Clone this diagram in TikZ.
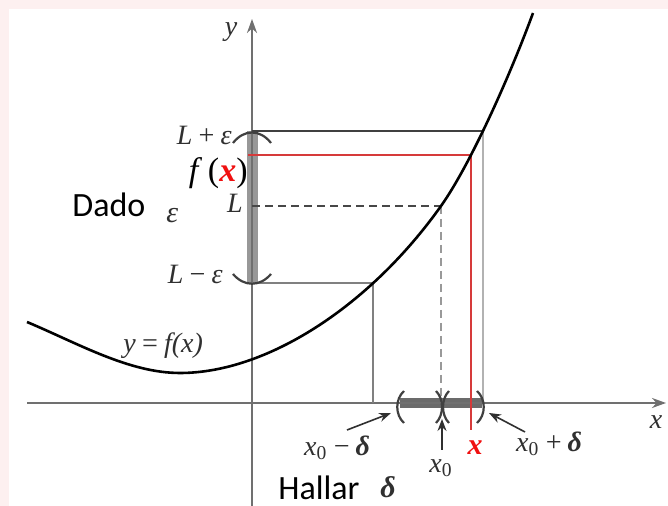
\documentclass[tikz,border=0pt]{standalone}
\usepackage{fontspec}
\usepackage{xcolor}
\usetikzlibrary{arrows.meta,positioning,calc}
\newfontfamily\graphfont{Liberation Serif}
\newfontfamily\wordfont{Carlito}
\definecolor{framebg}{HTML}{FDF0F0}
\definecolor{axisgray}{HTML}{707070}
\definecolor{bandgray}{HTML}{989898}
\definecolor{redline}{HTML}{D63A3A}
\definecolor{labelgray}{HTML}{303030}
\definecolor{markred}{HTML}{F01010}

\begin{document}
\begin{tikzpicture}[x=0.5pt,y=0.5pt,node distance=2pt,
    lbl/.style={font=\graphfont\itshape\fontsize{14}{16}\selectfont,text=labelgray,inner sep=0pt},
    word/.style={font=\wordfont\fontsize{17}{19}\selectfont,inner sep=0pt},
    pointer/.style={draw=labelgray,line width=0.8pt,-{Stealth[length=6pt,width=4.5pt]}},
    parenline/.style={draw=black!75,line width=1.1pt},
    axisline/.style={draw=axisgray,line width=1pt,-{Stealth[length=7pt,width=5pt]}}]
  \fill[framebg] (0,0) rectangle (668,506);
  \fill[white] (9,0) rectangle (668,497);
  \useasboundingbox (0,0) rectangle (668,506);

  \coordinate (ytop) at (252,487);
  \coordinate (ybot) at (252,0);
  \coordinate (xleft) at (27,103);
  \coordinate (xright) at (666,103);
  \coordinate (lpe) at (252,375);
  \coordinate (cpe) at (483,375);
  \coordinate (xpe) at (483,103);
  \coordinate (fxs) at (248,351);
  \coordinate (cfx) at (471,351);
  \coordinate (fxend) at (471,76);
  \coordinate (lc) at (252,300);
  \coordinate (cl) at (441,300);
  \coordinate (x0) at (441,103);
  \coordinate (lme) at (252,223);
  \coordinate (cme) at (373,223);
  \coordinate (xme) at (373,103);
  \coordinate (pl) at (400,103);
  \coordinate (pm) at (442,103);
  \coordinate (pr) at (482,103);

  \draw[bandgray,line width=5.5pt] (lpe) -- (lme);
  \draw[black!58,line width=5pt] (pl) -- (pr);
  \draw[axisline] (ybot) -- (ytop);
  \draw[axisline] (xleft) -- (xright);

  \draw[black!75,line width=1.2pt] (lpe) -- (cpe);
  \draw[black!30,line width=1.2pt] (cpe) -- (xpe);
  \draw[black!72,line width=1pt,dash pattern=on 4pt off 2.5pt] (lc) -- (cl);
  \draw[black!40,line width=1pt,dash pattern=on 4pt off 2.5pt] (cl) -- (x0);
  \draw[black!50,line width=0.9pt] (lme) -- (cme) -- (xme);
  \draw[redline,line width=0.6pt] (fxs) -- (cfx) -- (fxend);

  \draw[black,line width=1.3pt] (27,184) .. controls (78,162.6) and (129,133) .. (180,133)
    .. controls (267,133) and (370,200) .. (cl)
    .. controls (471,342.3) and (511,433) .. (533,493);

  \draw[parenline] ($(lpe)+(-19,-12)$) .. controls ($(lpe)+(-8,2)$) and ($(lpe)+(8,2)$) .. ($(lpe)+(19,-12)$);
  \draw[parenline] ($(lme)+(-19,9)$) .. controls ($(lme)+(-8,-4)$) and ($(lme)+(8,-4)$) .. ($(lme)+(19,9)$);
  \draw[parenline] ($(pl)+(4,12)$) .. controls ($(pl)+(-5,4)$) and ($(pl)+(-5,-12)$) .. ($(pl)+(4,-20)$);
  \draw[parenline] ($(pm)+(-6,12)$) .. controls ($(pm)+(2,4)$) and ($(pm)+(2,-12)$) .. ($(pm)+(-6,-20)$);
  \draw[parenline] ($(pm)+(7,12)$) .. controls ($(pm)+(-1,4)$) and ($(pm)+(-1,-12)$) .. ($(pm)+(7,-20)$);
  \draw[parenline] ($(pr)+(-5,12)$) .. controls ($(pr)+(4,4)$) and ($(pr)+(4,-12)$) .. ($(pr)+(-5,-20)$);

  \node[lbl] (ylab) at (231,474) {y};
  \node[lbl] (xlab) at (656,84) {x};
  \node[lbl,anchor=base east] (lpelab) at (232,361) {L\,+\,ε};
  \node[lbl,anchor=base east,font=\graphfont\fontsize{17}{19}\selectfont,text=black] (fxlab) at (248,324)
    {\textit{f}\,(\textcolor{markred}{\bfseries\itshape x})};
  \node[lbl,anchor=base east] (llab) at (243,293) {L};
  \node[lbl,anchor=base east] (lmelab) at (223,222) {L\,−\,ε};
  \node[word,anchor=base west] (dado) at (72,289) {Dado};
  \node[lbl,anchor=base west,font=\graphfont\itshape\fontsize{15}{17}\selectfont] (eps) at (166,283) {ε};
  \node[lbl,anchor=base west] (curvelab) at (123,153) {y\,=\,f(x)};
  \node[lbl] (xmdlab) at (337,58) {x\textsubscript{\upshape 0}\,−\,\textbf{δ}};
  \node[lbl] (x0lab) at (441,38) {x\textsubscript{\upshape 0}};
  \node[lbl,anchor=base,font=\graphfont\bfseries\itshape\fontsize{15}{16}\selectfont,text=markred] (xred) at (475,51) {x};
  \node[lbl] (xpdlab) at (549,62) {x\textsubscript{\upshape 0}\,+\,\textbf{δ}};
  \node[word,anchor=base west] (hallar) at (278,6) {Hallar};
  \node[lbl,anchor=base west,font=\graphfont\itshape\fontsize{15}{17}\selectfont] (delta) at (380,8) {\textbf{δ}};

  \coordinate (amd) at (347,76);
  \coordinate (tmd) at (391,93);
  \coordinate (am0) at (442,56);
  \coordinate (tm0) at (442,87);
  \coordinate (apd) at (525,74);
  \coordinate (tpd) at (489,93);
  \draw[pointer] (amd) -- (tmd);
  \draw[pointer] (am0) -- (tm0);
  \draw[pointer] (apd) -- (tpd);
\end{tikzpicture}
\end{document}
